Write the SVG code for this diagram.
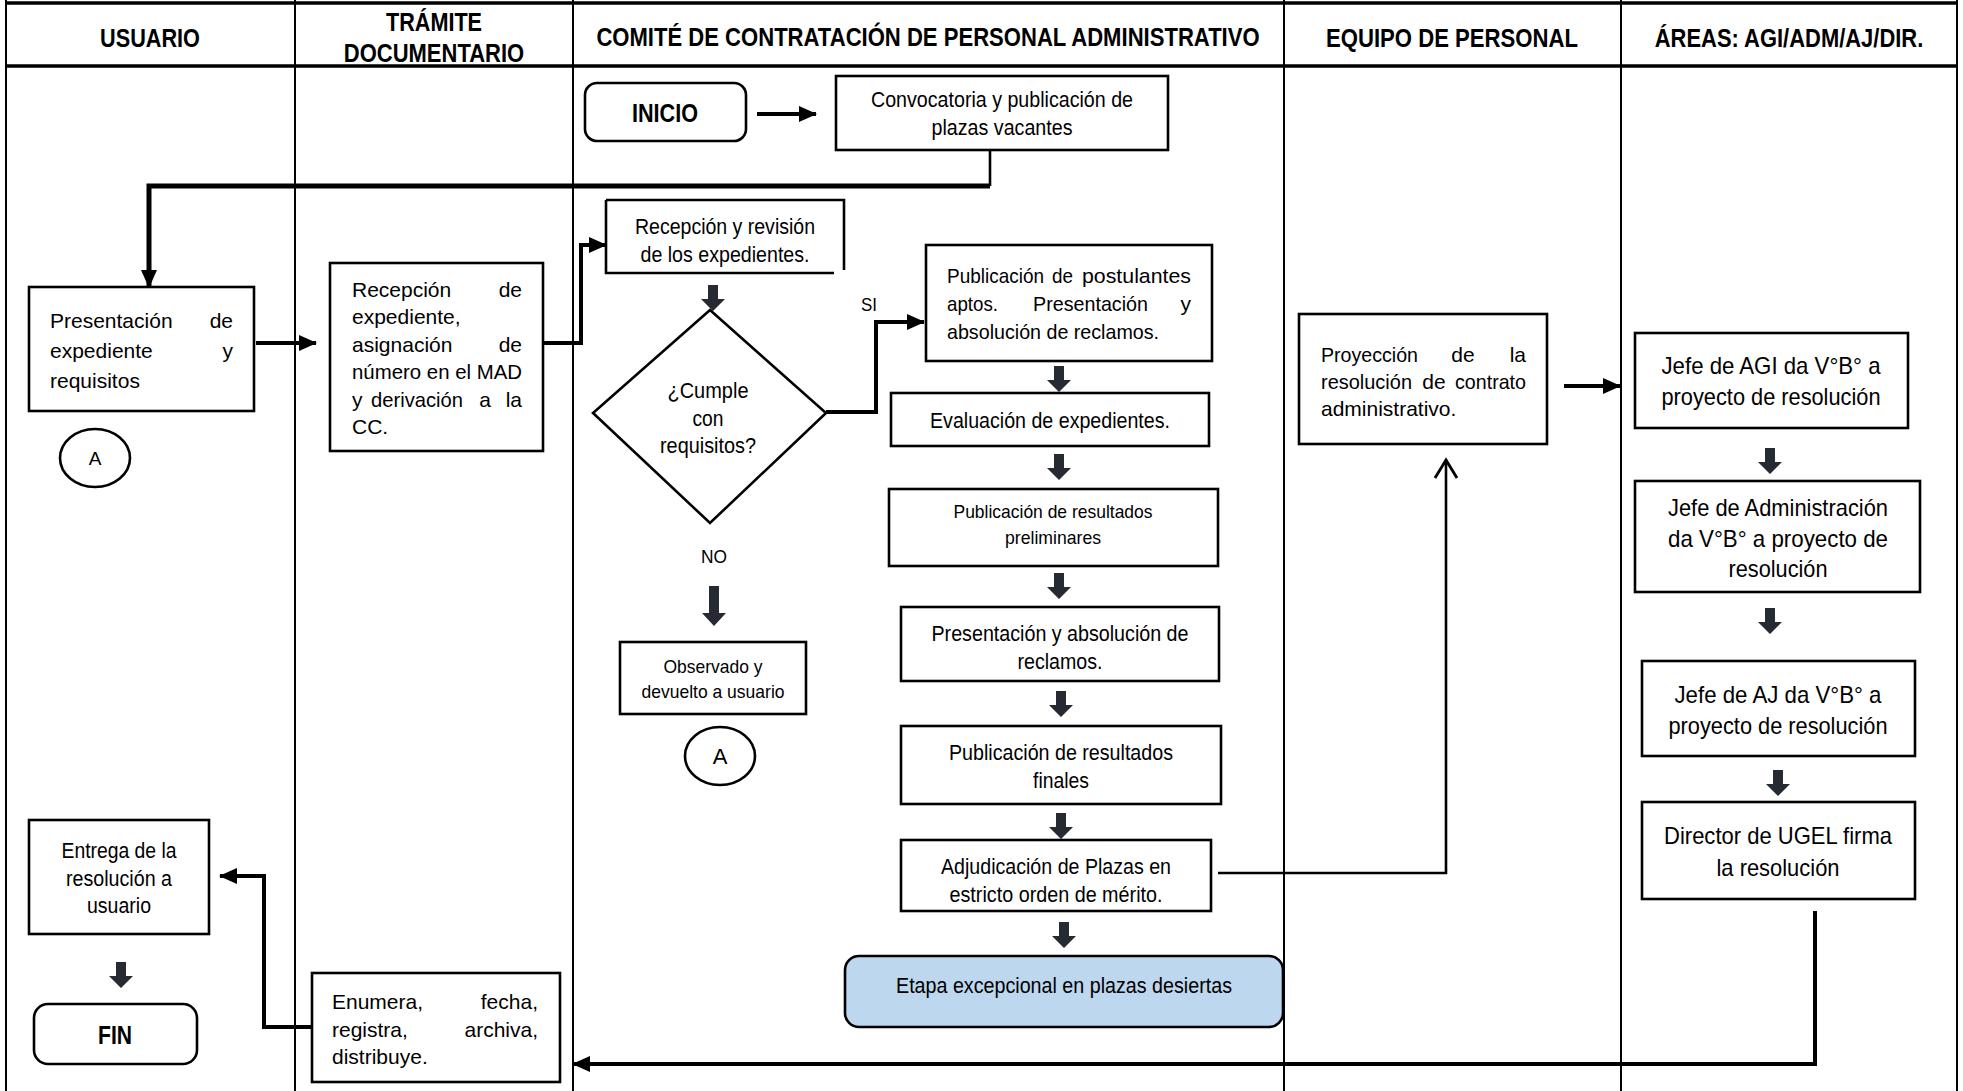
<svg xmlns="http://www.w3.org/2000/svg" width="1963" height="1091" viewBox="0 0 1963 1091">
<style>
text { font-family: "Liberation Sans", Arial, sans-serif; fill: #000; }
.h { font-weight: bold; font-size: 26px; text-anchor: middle; }
.b { font-weight: bold; font-size: 25px; text-anchor: middle; }
.n { font-size: 22px; text-anchor: middle; }
.s { font-size: 19px; text-anchor: middle; }
.g { font-size: 24px; text-anchor: middle; }
.j { font-size: 21px; }
.e { text-anchor: end; }
.m { text-anchor: middle; }
.box { fill: #fff; stroke: #000; stroke-width: 2.6; }
.lane { stroke: #000; stroke-width: 2; fill: none; }
.con { fill: none; stroke: #000; stroke-width: 4; }
.thin { fill: none; stroke: #000; stroke-width: 2.6; }
.blk { fill: #262a33; }
</style>
<defs>
<marker id="ah" markerUnits="userSpaceOnUse" markerWidth="18" markerHeight="16" refX="17" refY="8" orient="auto">
<path d="M0,0 L18,8 L0,16 Z" fill="#000"/>
</marker>
<marker id="oa" markerUnits="userSpaceOnUse" markerWidth="22" markerHeight="26" refX="19" refY="13" orient="auto">
<path d="M1,2 L19,13 L1,24" fill="none" stroke="#000" stroke-width="2.8"/>
</marker>
<path id="ba" class="blk" d="M-5,0 H5 V14 H12 L0,26 L-12,14 H-5 Z"/>
<path id="bal" class="blk" d="M-5,0 H5 V27 H12 L0,40 L-12,27 H-5 Z"/>
</defs>

<g id="lanes">
<line class="lane" x1="6" y1="0" x2="6" y2="1091"/>
<line class="lane" x1="1957" y1="0" x2="1957" y2="1091"/>
<line class="lane" x1="295" y1="0" x2="295" y2="1091"/>
<line class="lane" x1="573" y1="0" x2="573" y2="1091"/>
<line class="lane" x1="1284" y1="0" x2="1284" y2="1091"/>
<line class="lane" x1="1621" y1="0" x2="1621" y2="1091"/>
<line x1="6" y1="3" x2="1957" y2="3" stroke="#000" stroke-width="3.5"/>
<line x1="6" y1="66" x2="1957" y2="66" stroke="#000" stroke-width="3.5"/>
<text class="h" transform="translate(150,47) scale(0.834,1)">USUARIO</text>
<text class="h" transform="translate(434,31) scale(0.831,1)">TRÁMITE</text>
<text class="h" transform="translate(434,62) scale(0.846,1)">DOCUMENTARIO</text>
<text class="h" transform="translate(928,46) scale(0.849,1)">COMITÉ DE CONTRATACIÓN DE PERSONAL ADMINISTRATIVO</text>
<text class="h" transform="translate(1452,47) scale(0.851,1)">EQUIPO DE PERSONAL</text>
<text class="h" transform="translate(1789,47) scale(0.844,1)">ÁREAS: AGI/ADM/AJ/DIR.</text>
</g>

<g id="connectors">
<path class="con" d="M757,114 H816" marker-end="url(#ah)"/>
<path class="thin" d="M990,150 V186"/>
<path d="M990,186 H149 V287" fill="none" stroke="#000" stroke-width="5" marker-end="url(#ah)"/>
<path class="con" d="M256,343 H316" marker-end="url(#ah)"/>
<path class="con" d="M543,343 H581 V245 H606" marker-end="url(#ah)"/>
<path class="con" d="M826,412 H876 V322 H924" marker-end="url(#ah)"/>
<path class="thin" d="M1218,873 H1446 V460" marker-end="url(#oa)"/>
<path class="con" d="M1564,386 H1620" marker-end="url(#ah)"/>
<path class="con" d="M1815,911 V1064 H573" stroke-width="3.5" marker-end="url(#ah)"/>
<path class="con" d="M312,1027 H264 V876 H220" marker-end="url(#ah)"/>
<use href="#ba" x="713" y="285"/>
<use href="#bal" x="714" y="586"/>
<use href="#ba" x="1059" y="366"/>
<use href="#ba" x="1059" y="454"/>
<use href="#ba" x="1059" y="573"/>
<use href="#ba" x="1061" y="691"/>
<use href="#ba" x="1061" y="813"/>
<use href="#ba" x="1064" y="922"/>
<use href="#ba" x="121" y="962"/>
<use href="#ba" x="1770" y="448"/>
<use href="#ba" x="1770" y="608"/>
<use href="#ba" x="1778" y="770"/>
</g>

<g id="inicio">
<rect class="box" x="585" y="83" width="161" height="58" rx="12" stroke-width="3"/>
<text class="b" x="665" y="122" textLength="66" lengthAdjust="spacingAndGlyphs">INICIO</text>
</g>

<g id="convocatoria">
<rect class="box" x="836" y="76" width="332" height="74"/>
<text class="n" x="1002" y="107" textLength="262" lengthAdjust="spacingAndGlyphs">Convocatoria y publicación de</text>
<text class="n" x="1002" y="135" textLength="141" lengthAdjust="spacingAndGlyphs">plazas vacantes</text>
</g>

<g id="presentacion">
<rect class="box" x="29" y="287" width="225" height="124"/>
<text class="j" x="50" y="328" font-size="22">Presentación</text>
<text class="j e" x="233" y="328" font-size="22">de</text>
<text class="j" x="50" y="358" font-size="22">expediente</text>
<text class="j e" x="233" y="358" font-size="22">y</text>
<text class="j" x="50" y="388" font-size="22">requisitos</text>
</g>

<g id="conectorA1">
<ellipse cx="95" cy="458" rx="35" ry="29" fill="#fff" stroke="#000" stroke-width="2.6"/>
<text class="s" x="95" y="465" font-size="18">A</text>
</g>

<g id="recepcion-expediente">
<rect class="box" x="330" y="263" width="213" height="188"/>
<text class="j" x="352" y="297">Recepción</text>
<text class="j e" x="522" y="297">de</text>
<text class="j" x="352" y="324">expediente,</text>
<text class="j" x="352" y="352">asignación</text>
<text class="j e" x="522" y="352">de</text>
<text class="j" x="352" y="379" textLength="170" lengthAdjust="spacingAndGlyphs">número en el MAD</text>
<text class="j" x="352" y="407">y</text>
<text class="j" x="371" y="407" textLength="92" lengthAdjust="spacingAndGlyphs">derivación</text>
<text class="j m" x="485" y="407">a</text>
<text class="j e" x="522" y="407">la</text>
<text class="j" x="352" y="434">CC.</text>
</g>

<g id="recepcion-revision">
<path d="M606,200 H844 V270 M834,273 H606 V200" fill="#fff" stroke="#000" stroke-width="2.6"/>
<text class="n" x="725" y="234" textLength="180" lengthAdjust="spacingAndGlyphs">Recepción y revisión</text>
<text class="n" x="725" y="262" textLength="169" lengthAdjust="spacingAndGlyphs">de los expedientes.</text>
</g>

<g id="decision">
<polygon points="710,310 826,413 710,523 593,413" fill="#fff" stroke="#000" stroke-width="2.6"/>
<text class="n" x="708" y="398" textLength="81" lengthAdjust="spacingAndGlyphs">¿Cumple</text>
<text class="n" x="708" y="426" textLength="31" lengthAdjust="spacingAndGlyphs">con</text>
<text class="n" x="708" y="453" textLength="96" lengthAdjust="spacingAndGlyphs">requisitos?</text>
<text class="s" x="869" y="311" textLength="16" lengthAdjust="spacingAndGlyphs">SI</text>
<text class="s" x="714" y="563" textLength="26" lengthAdjust="spacingAndGlyphs">NO</text>
</g>

<g id="observado">
<rect class="box" x="620" y="642" width="186" height="72"/>
<text class="s" x="713" y="673" textLength="99" lengthAdjust="spacingAndGlyphs">Observado y</text>
<text class="s" x="713" y="698" textLength="143" lengthAdjust="spacingAndGlyphs">devuelto a usuario</text>
</g>

<g id="conectorA2">
<ellipse cx="720" cy="756" rx="35" ry="29" fill="#fff" stroke="#000" stroke-width="2.6"/>
<text class="n" x="720" y="764">A</text>
</g>

<g id="postulantes">
<rect class="box" x="926" y="245" width="286" height="116"/>
<text class="j" x="947" y="283" textLength="97" lengthAdjust="spacingAndGlyphs">Publicación</text>
<text class="j" x="1052" y="283" textLength="21" lengthAdjust="spacingAndGlyphs">de</text>
<text class="j" x="1082" y="283" textLength="109" lengthAdjust="spacingAndGlyphs">postulantes</text>
<text class="j" x="947" y="311" textLength="51" lengthAdjust="spacingAndGlyphs">aptos.</text>
<text class="j" x="1033" y="311" textLength="115" lengthAdjust="spacingAndGlyphs">Presentación</text>
<text class="j e" x="1191" y="311">y</text>
<text class="j" x="947" y="339" textLength="212" lengthAdjust="spacingAndGlyphs">absolución de reclamos.</text>
</g>

<g id="evaluacion">
<rect class="box" x="891" y="393" width="318" height="53"/>
<text class="n" x="1050" y="428" textLength="240" lengthAdjust="spacingAndGlyphs">Evaluación de expedientes.</text>
</g>

<g id="preliminares">
<rect class="box" x="889" y="489" width="329" height="77"/>
<text class="s" x="1053" y="518" textLength="199" lengthAdjust="spacingAndGlyphs">Publicación de resultados</text>
<text class="s" x="1053" y="544" textLength="96" lengthAdjust="spacingAndGlyphs">preliminares</text>
</g>

<g id="presentacion-reclamos">
<rect class="box" x="901" y="607" width="318" height="74"/>
<text class="n" x="1060" y="641" textLength="257" lengthAdjust="spacingAndGlyphs">Presentación y absolución de</text>
<text class="n" x="1060" y="669" textLength="85" lengthAdjust="spacingAndGlyphs">reclamos.</text>
</g>

<g id="finales">
<rect class="box" x="901" y="726" width="320" height="78"/>
<text class="n" x="1061" y="760" textLength="224" lengthAdjust="spacingAndGlyphs">Publicación de resultados</text>
<text class="n" x="1061" y="788" textLength="56" lengthAdjust="spacingAndGlyphs">finales</text>
</g>

<g id="adjudicacion">
<rect class="box" x="901" y="840" width="310" height="71"/>
<text class="n" x="1056" y="874" textLength="230" lengthAdjust="spacingAndGlyphs">Adjudicación de Plazas en</text>
<text class="n" x="1056" y="902" textLength="213" lengthAdjust="spacingAndGlyphs">estricto orden de mérito.</text>
</g>

<g id="etapa">
<rect x="845" y="956" width="438" height="71" rx="14" fill="#bdd7ee" stroke="#000" stroke-width="2.6"/>
<text class="n" x="1064" y="993" textLength="336" lengthAdjust="spacingAndGlyphs">Etapa excepcional en plazas desiertas</text>
</g>

<g id="proyeccion">
<rect class="box" x="1299" y="314" width="248" height="130"/>
<text class="j" x="1321" y="362" textLength="97" lengthAdjust="spacingAndGlyphs">Proyección</text>
<text class="j m" x="1463" y="362">de</text>
<text class="j e" x="1526" y="362">la</text>
<text class="j" x="1321" y="389" textLength="91" lengthAdjust="spacingAndGlyphs">resolución</text>
<text class="j m" x="1434" y="389">de</text>
<text class="j" x="1455" y="389" textLength="71" lengthAdjust="spacingAndGlyphs">contrato</text>
<text class="j" x="1321" y="416">administrativo.</text>
</g>

<g id="jefe-agi">
<rect class="box" x="1635" y="333" width="273" height="95"/>
<text class="g" x="1771" y="374" textLength="219" lengthAdjust="spacingAndGlyphs">Jefe de AGI da V°B° a</text>
<text class="g" x="1771" y="405" textLength="219" lengthAdjust="spacingAndGlyphs">proyecto de resolución</text>
</g>

<g id="jefe-adm">
<rect class="box" x="1635" y="481" width="285" height="111"/>
<text class="g" x="1778" y="516" textLength="220" lengthAdjust="spacingAndGlyphs">Jefe de Administración</text>
<text class="g" x="1778" y="547" textLength="220" lengthAdjust="spacingAndGlyphs">da V°B° a proyecto de</text>
<text class="g" x="1778" y="577" textLength="99" lengthAdjust="spacingAndGlyphs">resolución</text>
</g>

<g id="jefe-aj">
<rect class="box" x="1642" y="661" width="273" height="95"/>
<text class="g" x="1778" y="703" textLength="207" lengthAdjust="spacingAndGlyphs">Jefe de AJ da V°B° a</text>
<text class="g" x="1778" y="734" textLength="219" lengthAdjust="spacingAndGlyphs">proyecto de resolución</text>
</g>

<g id="director">
<rect class="box" x="1642" y="802" width="273" height="97"/>
<text class="g" x="1778" y="844" textLength="228" lengthAdjust="spacingAndGlyphs">Director de UGEL firma</text>
<text class="g" x="1778" y="876" textLength="123" lengthAdjust="spacingAndGlyphs">la resolución</text>
</g>

<g id="enumera">
<rect class="box" x="312" y="973" width="248" height="109"/>
<text class="j" x="332" y="1009">Enumera,</text>
<text class="j e" x="538" y="1009">fecha,</text>
<text class="j" x="332" y="1037">registra,</text>
<text class="j e" x="538" y="1037">archiva,</text>
<text class="j" x="332" y="1064">distribuye.</text>
</g>

<g id="entrega">
<rect class="box" x="29" y="820" width="180" height="114"/>
<text class="n" x="119" y="858" textLength="115" lengthAdjust="spacingAndGlyphs">Entrega de la</text>
<text class="n" x="119" y="886" textLength="106" lengthAdjust="spacingAndGlyphs">resolución a</text>
<text class="n" x="119" y="913" textLength="64" lengthAdjust="spacingAndGlyphs">usuario</text>
</g>

<g id="fin">
<rect class="box" x="34" y="1004" width="163" height="60" rx="14" stroke-width="3"/>
<text class="b" x="115" y="1044" textLength="34" lengthAdjust="spacingAndGlyphs">FIN</text>
</g>
</svg>
